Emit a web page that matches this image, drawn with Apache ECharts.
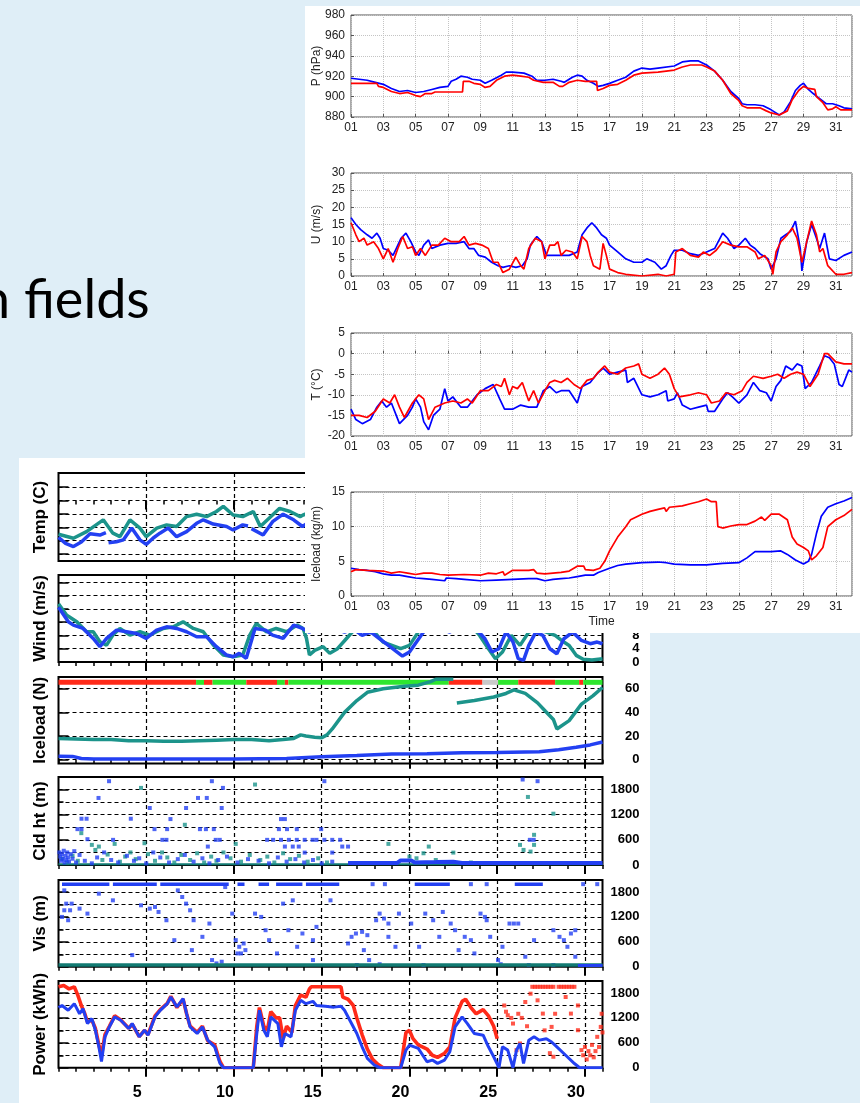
<!DOCTYPE html>
<html>
<head>
<meta charset="utf-8">
<title>Model comparison fields</title>
<script src="https://cdn.jsdelivr.net/npm/echarts@6/dist/echarts.min.js"></script>
<style>
  html, body { margin: 0; padding: 0; background: #dfeef7; }
  #chart { width: 860px; height: 1103px; }
</style>
</head>
<body>
<div id="chart"></div>
<script>
// ---------------- Upper panel: station vs. model, day of month 1..32 ----------------
const pBlue = [[1,918],[1.5,917],[2,916],[2.5,914],[3,912],[3.5,908],[4,905],[4.5,906],[5,904],[5.5,905],[6,907],[6.5,909],[7,910],[7.2,915],[7.5,917],[7.8,920],[8.2,919],[8.5,917],[9,916],[9.3,913],[9.7,916],[10.3,921],[10.6,924],[11,924],[11.7,923],[12.2,920],[12.5,916],[13,916],[13.5,917],[14,915],[14.2,914],[14.7,919],[15,921],[15.3,920],[15.6,916],[16,913],[16.3,910],[16.6,911],[17,913],[17.5,916],[18,919],[18.5,925],[19,928],[19.5,927],[20,928],[21,930],[21.5,934],[22,935],[22.5,935],[23,931],[23.5,925],[24,916],[24.5,905],[25,898],[25.2,893],[25.5,892],[26,892],[26.5,891],[27,887],[27.5,882],[27.8,885],[28.2,895],[28.5,906],[28.8,911],[29,913],[29.3,907],[29.6,903],[30,898],[30.4,893],[30.8,893],[31.2,891],[31.5,889],[32,888]];
const pRed = [[1,913],[2.6,913],[2.7,910],[3,909],[3.5,905],[4,903],[4.5,904],[5,901],[5.3,900],[5.6,903],[6,903],[6.2,904.5],[7.9,904.5],[7.95,915],[8.3,915],[8.6,913],[9,912],[9.3,909],[9.6,910],[10,916],[10.5,920],[11,921],[11.5,920],[12,919],[12.3,916],[12.9,914],[13.5,914],[13.9,910],[14.1,910],[14.5,914],[15,916],[15.5,915],[16.2,915],[16.25,906],[16.6,908],[17,911],[17.5,912],[18,916],[18.5,921],[19,923],[20,924],[21,926],[21.5,929],[22,931],[22.7,931],[23,929],[23.5,925],[24,916],[24.5,903],[25,896],[25.2,891],[25.5,889],[26.3,889],[26.7,886],[27,884],[27.5,882],[28,886],[28.3,897],[28.7,906],[29,910],[29.3,908],[29.7,907],[29.8,900],[30.2,894],[30.5,887],[30.8,888],[31,890],[31.3,887],[32,887]];

const uBlue = [[1,17],[1.3,15],[1.6,13.5],[2,12],[2.3,11],[2.6,12.5],[2.8,11],[3,8],[3.3,7.5],[3.6,6],[3.8,8],[4.1,11],[4.4,12.5],[4.7,10],[5,7],[5.2,6],[5.5,9],[5.8,10.5],[6,8],[6.5,9],[7,9.5],[7.5,9.5],[8,10],[8.3,8],[8.6,8],[8.9,6],[9.3,5.5],[9.7,4],[10.1,3],[10.4,2.5],[10.8,3],[11.2,2.5],[11.6,3],[11.9,5],[12.1,9],[12.5,11.5],[12.8,10],[13.1,6],[13.5,6],[14,6],[14.5,6],[15,7],[15.3,12],[15.6,14],[15.9,15.5],[16.2,14],[16.5,12],[16.8,11],[17,9],[17.5,7],[18,5],[18.5,4],[19,4],[19.3,5],[19.8,4],[20.2,2],[20.5,3],[20.8,6],[21,7.5],[21.5,7.5],[22,6.5],[22.5,6],[23,7],[23.5,8],[24,12.5],[24.3,11],[24.7,8],[25,9],[25.4,11],[25.7,9],[26,8],[26.3,6.5],[26.8,5],[27,2],[27.3,5],[27.6,11],[27.9,12],[28.2,13],[28.5,16],[28.8,8],[28.9,1.5],[29.2,10],[29.5,15],[29.8,11],[30,8],[30.3,12.5],[30.6,5],[31,4.5],[31.5,6],[32,7]];
const uRed = [[1,15.5],[1.3,12],[1.5,10],[1.8,11],[2,9],[2.4,10],[2.7,8],[3,5],[3.3,8],[3.6,4],[3.9,8],[4.2,11.5],[4.5,8],[4.8,8.5],[5,6],[5.3,8],[5.6,6],[6,9],[6.4,9],[6.8,11],[7.2,10],[7.7,10],[8,11.5],[8.3,9],[8.7,9.5],[9.1,9],[9.5,8],[9.8,4],[10.1,4],[10.4,1],[10.8,2],[11.2,5.5],[11.5,3],[11.7,2],[12,8],[12.4,11],[12.8,10],[13,5],[13.3,9],[13.6,9],[13.8,10],[14,6],[14.3,7.5],[14.7,7],[15,5],[15.3,11.5],[15.6,10],[15.8,6],[16,3],[16.4,2],[16.6,9.5],[16.8,6],[17,2],[17.5,1],[18,0.5],[19,0],[20,0.5],[20.5,0],[21,0.5],[21.1,7],[21.5,8],[22,6],[22.5,5.5],[22.8,7],[23.2,6],[23.6,7.5],[24,10],[24.5,9],[25,8.5],[25.5,8.5],[26,7],[26.2,5],[26.6,6],[27,3],[27.1,0.5],[27.3,7],[27.6,10],[28,12],[28.3,14],[28.6,11],[28.9,4],[29.2,10],[29.5,16],[29.8,12],[30,7],[30.2,8],[30.5,3],[31,0.5],[31.5,0.5],[32,1]];

const tBlue = [[1,-13.5],[1.3,-16],[1.7,-17],[2.2,-16],[2.6,-13],[2.9,-11.5],[3.2,-13],[3.5,-12],[3.8,-15],[4,-17],[4.5,-15],[4.8,-13],[5,-11],[5.3,-13],[5.5,-16.5],[5.8,-18.5],[6.1,-15],[6.5,-13.5],[6.8,-8.5],[7,-11.5],[7.3,-10.5],[7.8,-13],[8.2,-13],[8.8,-10],[9.3,-8.5],[9.8,-7.5],[10.2,-11],[10.5,-13.5],[11,-13.5],[11.5,-12.5],[12,-13],[12.5,-13],[12.9,-9],[13.3,-8],[13.7,-9.5],[14,-9],[14.5,-9],[15,-12],[15.3,-8],[15.8,-7],[16.2,-5],[16.6,-3.5],[17,-5],[17.5,-4.5],[18,-4],[18.1,-7],[18.5,-6],[19,-10],[19.5,-10.5],[20,-10],[20.5,-9],[20.6,-11.5],[21,-11],[21.2,-9.5],[21.5,-12.5],[22,-13.5],[22.5,-13],[23,-12.5],[23.1,-14],[23.5,-14],[24,-11],[24.3,-9.5],[24.6,-10.5],[25,-12],[25.5,-10],[25.9,-7],[26.3,-9],[26.7,-9.5],[27,-11.5],[27.3,-8],[27.6,-6.5],[27.9,-3],[28.3,-4],[28.6,-2.5],[28.9,-3],[29.1,-8.5],[29.5,-7],[30,-3],[30.3,-0.5],[30.6,-1],[30.9,-2.5],[31.2,-7.5],[31.4,-8],[31.8,-4],[32,-4.5]];
const tRed = [[1,-15],[1.5,-15],[2,-15.5],[2.5,-14],[3,-11],[3.4,-12],[3.7,-10],[4,-13],[4.3,-15.5],[4.8,-12],[5.2,-10],[5.5,-11],[5.8,-16],[6.2,-13],[6.8,-12],[7.3,-11.5],[7.8,-12],[8.2,-11],[8.5,-12],[9,-9],[9.5,-9],[10,-7.5],[10.3,-8],[10.5,-6],[10.8,-10],[11,-8],[11.3,-8.5],[11.6,-7],[12,-11.5],[12.3,-9],[12.6,-12],[13,-9],[13.3,-7],[13.6,-6.5],[14,-7],[14.4,-6],[14.8,-7.5],[15.2,-8.5],[15.6,-6.5],[16,-6],[16.3,-4.5],[16.7,-3],[17,-4.5],[17.5,-5],[18,-3.5],[18.5,-3],[18.8,-2.5],[19,-5],[19.5,-6],[20,-5],[20.4,-3.5],[20.7,-5],[21,-8.5],[21.3,-10.5],[22,-10],[22.5,-9.5],[23,-10],[23.3,-12],[23.8,-11.5],[24.2,-9.5],[24.7,-10],[25.2,-9],[25.5,-7],[25.9,-5.5],[26.5,-6],[27,-5.5],[27.4,-5],[27.8,-6],[28.2,-5],[28.6,-4.5],[29,-5],[29.4,-8],[29.9,-5],[30.3,0],[30.5,0],[31,-2],[31.5,-2.5],[32,-2.5]];

const iceBlue = [[1,4],[1.5,3.8],[2,3.7],[2.5,3.5],[3,3.2],[3.5,3],[4,3],[4.5,2.8],[5,2.6],[5.5,2.5],[6,2.4],[6.8,2.2],[6.9,2.6],[7.5,2.5],[8,2.4],[9,2.2],[10,2.3],[11,2.4],[12,2.5],[12.5,2.5],[13,2.2],[13.5,2.4],[14,2.5],[14.5,2.6],[15,2.8],[15.5,3],[16,3],[16.3,3.4],[17,4],[17.5,4.4],[18,4.6],[19,4.8],[20,4.9],[20.5,4.8],[21,4.6],[22,4.5],[23,4.5],[24,4.7],[25,4.8],[25.5,5.5],[26,6.4],[26.5,6.4],[27,6.4],[27.6,6.5],[28,6],[28.5,5.2],[29,4.6],[29.3,5],[29.5,6],[29.8,9],[30.1,11.5],[30.5,12.8],[31,13.3],[31.5,13.7],[32,14.2]];
const iceRed = [[1,3.5],[1.3,3.8],[2,3.7],[3,3.6],[3.5,3.3],[4,3.5],[4.5,3.3],[5,3.1],[5.5,3.3],[6,3.3],[6.5,3.1],[7,3],[8,3.1],[9,3],[9.5,3.3],[10,3.2],[10.4,3.5],[10.5,3],[11,3.7],[12,3.7],[12.3,3.8],[12.5,3.3],[13,3.2],[14,3.4],[14.5,3.6],[15,4.3],[15.4,4.3],[15.5,3.8],[16,3.7],[16.4,4],[16.7,5],[17,6.5],[17.5,8.5],[18,10],[18.3,11],[19,11.8],[19.5,12.2],[20,12.5],[20.4,12.7],[20.5,12.2],[20.7,12.8],[21.5,13],[22,13.3],[22.5,13.6],[23,14],[23.3,13.6],[23.6,13.6],[23.7,10],[24,9.8],[24.5,10.1],[25,10.3],[25.5,10.3],[26,10.8],[26.4,11.4],[26.6,10.9],[27,11.8],[27.5,11.8],[28,11],[28.1,10.9],[28.3,8.5],[28.6,7.5],[29,7],[29.3,6.5],[29.5,5.2],[29.8,5.8],[30.2,7],[30.5,10],[31,11],[31.5,11.6],[32,12.5]];

// ---------------- Lower panel: day of month 0..31 ----------------
const tempLowBlue = [[0,-13.8],[0.4,-16],[0.85,-17.2],[1.3,-15.5],[1.8,-12.4],[2.36,-12.9],[2.7,-12],[2.75,null],[2.85,-15.8],[3.3,-15.4],[3.7,-14.7],[4.17,-10.3],[4.64,-14.7],[5.0,-16.4],[5.4,-14],[5.78,-12.2],[6.25,-10.3],[6.73,-13.5],[7.3,-11.6],[7.87,-8.5],[8.25,-7.2],[8.82,-8.8],[9.58,-9.7],[9.95,-11],[10.5,-9.1],[10.8,-9.5],[10.85,null],[11.0,-10.5],[11.1,-11],[11.66,-12.9],[12.2,-7.9],[12.8,-5.1],[13.4,-7.2],[13.9,-9.7],[14.3,-8]];
const tempLowTeal = [[0,-12.6],[0.09,-12.9],[0.85,-14.1],[1.6,-11.6],[2.55,-7.2],[3.1,-12.2],[3.5,-13.5],[4.07,-7.2],[4.64,-10.3],[5.0,-13.5],[5.6,-10.3],[6.16,-9.1],[6.73,-9.7],[7.3,-6.0],[7.87,-5.1],[8.44,-6.0],[9.0,-4.1],[9.39,-2.2],[9.95,-5.4],[10.5,-6.0],[11.1,-4.1],[11.5,-9.7],[12.0,-6.6],[12.6,-2.9],[13.2,-4.1],[13.77,-6.0],[13.94,-5.4],[14.3,-4.5]];

const windLowBlue = [[0,16.5],[0.09,16.1],[0.56,12.1],[0.85,11.1],[1.4,10.1],[1.98,7.1],[2.36,4.6],[2.74,7.1],[3.31,9.6],[3.88,9.1],[4.45,8.6],[5.0,7.1],[5.59,9.6],[6.16,10.6],[6.73,10.1],[7.3,9.1],[7.87,7.6],[8.44,7.6],[9.0,4.6],[9.58,2.1],[9.95,1.6],[10.3,2.6],[10.7,1.1],[11.2,10.1],[11.8,9.6],[12.2,8.1],[12.8,7.1],[13.4,11.1],[13.9,10.1],[14.3,9],[14.8,11],[15.3,12],[15.8,10],[16.3,9],[16.8,10],[17.3,8],[17.8,9],[18.3,7],[18.8,5],[19.3,3],[19.6,1.8],[20.0,3],[20.4,6],[20.8,9],[21.3,11],[21.8,10],[22.3,9],[22.8,11],[23.3,12],[23.8,10],[24.3,7],[24.7,3],[25.1,4],[25.5,9],[25.9,6],[26.2,1],[26.5,0.5],[26.8,5],[27.2,9],[27.6,8],[28.0,4],[28.4,2.5],[28.8,7],[29.3,9],[29.8,6.5],[30.3,5.5],[30.7,6],[31,5.5]];
const windLowTeal = [[0,17.5],[0.09,17.1],[0.47,14.1],[1.04,12.1],[1.6,9.1],[1.98,9.1],[2.36,6.1],[2.74,5.1],[3.1,8.1],[3.5,10.1],[4.07,8.1],[4.64,9.1],[5.2,8.1],[5.59,9.1],[5.97,10.1],[6.54,10.6],[7.1,12.1],[7.68,10.1],[8.25,9.1],[8.82,5.1],[9.39,2.1],[9.95,1.6],[10.5,2.1],[10.9,8.1],[11.28,11.6],[11.85,9.1],[12.4,10.1],[13.0,9.1],[13.6,11.1],[13.94,10.1],[14.13,7.1],[14.3,2.1],[14.6,3.5],[15.08,4.6],[15.46,2.6],[15.9,4],[16.4,7],[16.9,10],[17.5,12],[18,9],[18.5,6],[19,5],[19.5,4],[20,5],[20.5,9],[21,12],[22,10],[23,12],[23.5,11],[24,8],[24.5,4],[24.9,1],[25.3,3],[25.8,8],[26.3,5],[26.8,9],[27.3,10],[27.8,9],[28.3,8],[28.8,6],[29.1,5],[29.5,2],[29.9,0.8],[30.4,0.6],[31,1]];

const iceLowTeal = [[0,18],[1,17.5],[2,17],[3,17],[4,16],[5,16],[6,15.5],[7,15.5],[8,16],[9,16.5],[10,17],[11,17],[12,16],[12.8,17],[13.4,18],[13.8,21],[14.1,20],[14.6,19],[15,18.5],[15.3,21],[15.6,26],[16.3,40],[17,50],[17.6,57],[18.5,60],[19.7,62],[20.5,63],[21.2,66],[21.5,68],[22.5,68],[22.6,null],[22.7,48],[23.7,50],[24.8,53],[25.5,56],[25.95,59],[26.6,56],[27.3,48],[27.75,41],[28.2,34],[28.4,26],[29.1,33],[29.8,47],[30.45,54],[31,61]];
const iceLowBlue = [[0,3],[0.8,2.8],[1.3,1],[2,0.5],[6,0.5],[10,0.6],[13,1],[15,2.5],[17,3.5],[19,4.8],[21,5],[23,5.8],[25,6],[27.4,6.8],[28.5,8.5],[29.5,10.5],[30.3,12.5],[31,15]];
// icing-state flag: [start day, end day, state]  0 = icing, 1 = no icing, 2 = missing
const iceFlagRuns = [[0,7.84,0],[7.84,8.29,1],[8.29,8.78,0],[8.78,10.7,1],[10.7,12.45,0],[12.45,12.9,1],[12.9,13.1,0],[13.1,22.24,1],[22.24,24.16,0],[24.16,25.05,2],[25.05,26.2,1],[26.2,28.3,0],[28.3,29.67,1],[29.67,29.9,0],[29.9,31,1]];
const ICE_FLAG_LEVEL = 65.4;

const cldBlue = [[0.05,300],[0.1,200],[0.15,100],[0.2,260],[0.25,150],[0.3,340],[0.35,60],[0.4,220],[0.45,120],[0.5,300],[0.55,180],[0.6,80],[0.7,260],[0.8,150],[0.9,330],[1.0,60],[1.2,240],[1.5,100],[1.9,40],[2.2,180],[2.6,300],[3.0,120],[3.4,60],[3.9,220],[4.3,100],[4.6,160],[5.0,40],[5.4,300],[5.8,180],[6.3,60],[6.8,140],[7.2,240],[7.7,80],[8.2,160],[8.6,40],[9.1,120],[9.6,200],[10.2,60],[10.8,140],[11.4,100],[12.0,40],[12.5,180],[13.0,80],[13.5,140],[14.0,60],[14.5,120],[15.0,40],[15.6,80],
  [2.88,2000],[2.28,1600],[1.31,1104],[1.6,1104],[1.08,856],[1.31,856],[1.65,616],[4.12,1104],[3.11,600],[5.2,1360],[5.47,856],[6.19,856],[5.92,600],[6.15,600],[6.38,1096],[7.27,1360],[7.95,1600],[8.45,1600],[8.74,2000],[9.37,1840],[9.3,1360],[8.06,856],[8.4,856],[8.85,856],[8.96,600],[9.19,600],[8.51,440],[11.89,600],[12.68,1096],[12.9,1096],[12.56,856],[13.02,856],[13.58,856],[12.23,600],[12.68,600],[13.13,600],[13.58,600],[14.03,600],[14.48,600],[12.9,440],[13.35,440],[13.69,440],[14.03,296],[15.15,2000],[14.97,856],[14.7,600],[15.15,600],[15.6,600],[16.05,600],[15.6,296],[16.17,440],[16.5,440],[26.45,2040],[27.3,2000],[26.86,600],[27.08,600]];
const cldTeal = [[0.2,150],[0.5,60],[0.8,220],[1.1,100],[1.3,760],[1.9,480],[2.1,360],[2.3,440],[2.5,120],[2.8,250],[3.2,504],[3.5,80],[3.8,200],[4.1,300],[4.4,140],[4.7,1840],[4.9,520],[5.1,260],[5.5,100],[5.9,300],[6.2,180],[6.6,60],[7.0,240],[7.2,960],[7.5,120],[7.9,280],[8.3,60],[8.7,200],[9.0,100],[9.4,300],[9.8,160],[10.1,504],[10.4,80],[10.9,240],[11.2,1920],[11.5,120],[11.9,200],[12.3,60],[12.8,280],[13.2,140],[13.7,220],[14.2,80],[14.8,160],[15.3,60],[18.8,504],[20.0,200],[20.4,160],[20.8,280],[21.1,440],[21.5,120],[22.5,296],[23.5,60],[26.3,480],[26.5,360],[26.75,1624],[26.9,320],[27.1,480],[27.1,720],[28.2,1224]];
const cldBlueFloor = [[16.5,50],[19.3,50],[19.5,110],[20.1,110],[20.3,60],[21.5,70],[22.5,80],[23,50],[31,50]];
const cldTealFloor = [[0,20],[31,20]];

const VIS_CAP = 1990;
const visBlueCapRuns = [[0.2,2.9],[3.1,5.6],[5.8,9.7],[10.2,10.6],[11.4,12.0],[12.4,13.9],[14.1,16.0],[20.3,22.3],[26.0,27.6]];
const visBlueCapDots = [[17.9,1990],[18.6,1990],[23.5,1990],[24.4,1990],[29.9,1990],[30.7,1990]];
const visBlue = [[0.33,1840],[0.44,1520],[0.55,1120],[0.66,1360],[0.75,1520],[0.33,1360],[0.2,1200],[1.2,1400],[1.65,1280],[2.3,1760],[3.1,1600],[4.2,280],[4.7,1480],[5.2,1400],[5.5,1440],[5.7,1320],[6.15,1120],[6.6,640],[6.8,1840],[7.05,1680],[7.27,1520],[7.5,1360],[7.7,1120],[7.6,400],[8.2,720],[8.6,1040],[8.75,160],[9.0,80],[9.3,120],[9.5,1920],[9.9,1280],[10.1,640],[10.3,480],[10.4,320],[10.55,560],[10.65,400],[10.2,320],[11.2,1280],[11.55,1200],[11.8,880],[12.0,640],[12.45,320],[12.8,1520],[13.35,1600],[13.1,880],[13.6,480],[13.9,800],[14.5,640],[14.7,960],[14.5,160],[15.5,1600],[16.5,560],[16.7,720],[16.95,800],[17.0,40],[17.3,840],[17.6,760],[18.1,1120],[18.3,1280],[18.3,60],[18.55,1160],[18.8,1040],[17.4,400],[17.7,160],[18.8,720],[19.2,480],[19.4,1280],[20.1,1040],[20.55,480],[20.8,40],[20.9,1280],[21.35,1120],[21.7,720],[21.9,1320],[22.35,1040],[22.6,880],[22.8,400],[23.15,720],[23.5,640],[23.7,320],[24.05,1280],[24.3,1200],[24.4,1120],[24.6,720],[25.05,160],[25.2,60],[25.3,480],[25.7,1040],[25.95,1040],[26.2,1040],[26.6,240],[26.8,40],[27.1,640],[28.2,880],[28.2,40],[28.55,720],[28.8,640],[29.0,480],[29.2,800],[29.45,880],[29.45,240]];
const visBlueFloor = [[29.6,30],[31,30]];
const visTealFloor = [[0,40],[31,40]];

const powerBlue = [[0,1450],[0.2,1500],[0.55,1384],[0.9,1544],[1.2,1300],[1.4,1424],[1.65,1064],[1.9,1184],[2.1,904],[2.3,504],[2.45,150],[2.65,744],[2.9,984],[3.2,1224],[3.55,1144],[4.0,944],[4.2,1064],[4.6,744],[4.9,904],[5.1,784],[5.5,1224],[5.8,1384],[6.2,1544],[6.4,1704],[6.75,1464],[7.1,1664],[7.3,1304],[7.5,984],[7.9,824],[8.2,984],[8.5,664],[8.9,504],[9.2,104],[9.4,0],[11.1,0],[11.3,824],[11.45,1384],[11.7,904],[11.9,744],[12.1,1224],[12.5,1064],[12.7,504],[12.9,824],[13.25,744],[13.5,1384],[13.8,1624],[14.1,1544],[14.5,1600],[14.7,1500],[15.2,1480],[15.7,1460],[16.1,1480],[16.3,1384],[16.6,1144],[17.0,824],[17.3,504],[17.6,224],[18.0,64],[18.3,0],[19.5,0],[19.8,424],[20.0,544],[20.5,464],[21.0,144],[21.3,184],[21.6,104],[22.0,184],[22.3,384],[22.6,984],[23.0,1224],[23.3,1064],[23.7,824],[24.2,784],[24.5,504],[24.8,264],[25.1,0],[25.3,504],[25.6,424],[25.9,0],[26.1,424],[26.3,584],[26.5,104],[26.8,664],[27.1,744],[27.4,664],[27.8,700],[28.1,620],[28.4,500],[28.9,300],[29.4,100],[29.7,0],[31,0]];
const powerRed = [[0,1950],[0.3,1980],[0.6,1900],[0.9,1950],[1.1,1750],[1.3,1500],[1.5,1300],[1.65,1100],[1.9,1150],[2.1,950],[2.3,550],[2.45,300],[2.65,800],[2.9,1000],[3.2,1250],[3.55,1150],[4.0,950],[4.2,1050],[4.6,750],[4.9,900],[5.1,800],[5.5,1250],[5.8,1400],[6.2,1550],[6.4,1720],[6.75,1450],[7.1,1650],[7.3,1300],[7.5,1000],[7.9,850],[8.2,1000],[8.5,650],[8.9,550],[9.2,150],[9.4,0],[11.1,0],[11.3,1000],[11.45,1450],[11.7,1000],[11.9,900],[12.1,1350],[12.4,1200],[12.6,1200],[12.8,700],[13.0,1000],[13.3,850],[13.5,1500],[13.8,1750],[14.1,1700],[14.3,1900],[14.4,1950],[16.1,1950],[16.2,1700],[16.5,1650],[16.8,1500],[17.0,1200],[17.3,800],[17.6,450],[17.9,200],[18.2,80],[18.5,0],[19.5,0],[19.8,850],[20.0,900],[20.2,700],[20.5,550],[21.0,450],[21.3,300],[21.6,250],[22.0,350],[22.3,500],[22.6,1200],[23.0,1600],[23.2,1650],[23.5,1450],[23.8,1300],[24.2,1400],[24.5,1250],[24.8,1000],[25.0,700]];
const powerRedDots = [[25.4,1500],[25.5,1350],[25.6,1264],[25.8,1200],[25.9,1064],[26.1,424],[26.2,1300],[26.3,584],[26.4,1200],[26.6,1584],[26.7,1000],[26.9,1784],[27.0,1950],[27.15,1950],[27.3,1950],[27.45,1950],[27.6,1950],[27.75,1950],[27.9,1950],[28.05,1950],[28.2,1950],[27.3,1624],[27.6,1304],[27.7,900],[28.0,350],[28.1,984],[28.2,264],[28.3,1300],[28.5,1950],[28.65,1950],[28.8,1950],[28.95,1950],[29.1,1950],[29.25,1950],[29.4,1950],[28.9,1704],[29.2,1304],[29.6,904],[29.6,1500],[29.8,424],[29.9,300],[30.0,500],[30.1,200],[30.2,400],[30.3,300],[30.4,550],[30.5,250],[30.6,400],[30.7,744],[30.8,500],[30.9,984],[30.95,1300],[31,850]];

// tick values
const dayMajorTicks = [5, 10, 15, 20, 25, 30];
const tempTicks = [-20, -15, -10, -5, 0, 5];
const windTicks = [0, 4, 8, 12, 16, 20, 24];
const windLines = [4, 8, 12, 16, 20, 24];
const iceNTicks = [0, 20, 40, 60];
const meterTicks = [0, 600, 1200, 1800];
const meterLines = [300, 600, 900, 1200, 1500, 1800];

// ---------------- option assembly ----------------
const FONT = '"Liberation Sans", Arial, Helvetica, sans-serif';
const C_BLUE = '#0000ff', C_RED = '#ff0000';
const L_BLUE = '#2340f2', L_TEAL = '#1c948b', L_TEAL_DARK = '#127a72', L_RED = '#ff2b1a';
const FLAG_COLORS = ['#ff2b1a', '#2ee62e', '#c9c9c9'];
const DAY_MAX = 31;

const grid = [], xAxis = [], yAxis = [], series = [];
const graphics = [];

function capRunsToLine(runs, level) {
  const out = [];
  runs.forEach(r => { out.push([r[0], level], [r[1], level], [r[1] + 0.01, null]); });
  return out;
}

// upper-right block (drawn on its own layer, above the lower-left block)
const upperPanels = [
  { name: 'P (hPa)', min: 880, max: 980, step: 20, top: 15, height: 102, blue: pBlue, red: pRed },
  { name: 'U (m/s)', min: 0, max: 30, step: 5, top: 173, height: 103, blue: uBlue, red: uRed },
  { name: 'T (\u00B0C)', min: -20, max: 5, step: 5, top: 333, height: 103, blue: tBlue, red: tRed },
  { name: 'Iceload (kg/m)', min: 0, max: 15, step: 5, top: 492, height: 104, blue: iceBlue, red: iceRed, xName: 'Time' }
];
upperPanels.forEach(p => {
  const gi = grid.length;
  grid.push({ left: 351, width: 501, top: p.top, height: p.height, show: true, borderColor: '#555', borderWidth: 1,
              zlevel: 1, z: 1, containLabel: false, outerBoundsMode: 'none' });
  const xi = xAxis.length;
  xAxis.push({
    type: 'value', gridIndex: gi, min: 1, max: 32, interval: 2, zlevel: 1, z: 2,
    name: p.xName || '', nameLocation: 'middle', nameGap: 20,
    nameTextStyle: { fontFamily: FONT, fontSize: 12, color: '#222' },
    axisLine: { show: false },
    axisTick: { show: true, inside: true, length: 3, lineStyle: { color: '#555', width: 1 } },
    axisLabel: { fontFamily: FONT, fontSize: 12, color: '#222', margin: 5, showMaxLabel: false,
                 formatter: v => (v < 10 ? '0' : '') + v },
    splitLine: { show: true, lineStyle: { color: '#c4c4c4', type: 'dotted', width: 1 } }
  });
  const yi = yAxis.length;
  yAxis.push({
    type: 'value', gridIndex: gi, min: p.min, max: p.max, interval: p.step, zlevel: 1, z: 2,
    axisLine: { show: false },
    axisTick: { show: true, inside: true, length: 3, lineStyle: { color: '#555', width: 1 } },
    axisLabel: { fontFamily: FONT, fontSize: 12, color: '#222', margin: 6 },
    splitLine: { show: true, lineStyle: { color: '#c4c4c4', type: 'dotted', width: 1 } }
  });
  graphics.push({ type: 'text', zlevel: 1, z: 5, x: 317, y: p.top + p.height / 2, rotation: Math.PI / 2,
    style: { text: p.name, font: '12px ' + FONT, fill: '#222', align: 'center', verticalAlign: 'middle' } });
  series.push({ type: 'line', xAxisIndex: xi, yAxisIndex: yi, data: p.blue, symbol: 'none', zlevel: 1, z: 3,
                lineStyle: { color: C_BLUE, width: 1.7 }, animation: false });
  series.push({ type: 'line', xAxisIndex: xi, yAxisIndex: yi, data: p.red, symbol: 'none', zlevel: 1, z: 4,
                lineStyle: { color: C_RED, width: 1.7 }, animation: false });
});

// lower-left block: six stacked panels sharing the day axis
const lowerPanels = [
  { name: 'Temp (C)',    min: -22.6, max: 10.3, top: 473, height: 88,   lines: tempTicks, major: tempTicks },
  { name: 'Wind (m/s)',  min: 0,     max: 26.2, top: 575, height: 87,   lines: windLines, major: windTicks },
  { name: 'Iceload (N)', min: -3.2,  max: 69.9, top: 677, height: 86.5, lines: iceNTicks, major: iceNTicks },
  { name: 'Cld ht (m)',  min: 0,     max: 2100, top: 777, height: 88,   lines: meterLines, major: meterTicks },
  { name: 'Vis (m)',     min: 0,     max: 2090, top: 880, height: 86.7, lines: meterLines, major: meterTicks },
  { name: 'Power (kWh)', min: 0,     max: 2090, top: 981, height: 86.7, lines: meterLines, major: meterTicks }
];
const axesOf = [];
lowerPanels.forEach((p, i) => {
  const last = i === lowerPanels.length - 1;
  const gi = grid.length;
  grid.push({ left: 58.5, width: 544, top: p.top, height: p.height, show: true, borderColor: '#000', borderWidth: 2,
              zlevel: 0, z: 1, containLabel: false, outerBoundsMode: 'none' });
  const xi = xAxis.length;
  xAxis.push({
    type: 'value', gridIndex: gi, min: 0, max: DAY_MAX, interval: 1, position: 'bottom', zlevel: 0, z: 2,
    axisLine: { show: false },
    axisTick: { show: true, length: 4, lineStyle: { color: '#000', width: 1.5 } },
    axisLabel: { show: false }, splitLine: { show: false }
  });
  xAxis.push({
    type: 'value', gridIndex: gi, min: 0, max: DAY_MAX, interval: 5, position: 'bottom', zlevel: 0, z: 2,
    axisLine: { show: false },
    axisTick: { show: true, length: 9, customValues: dayMajorTicks, lineStyle: { color: '#000', width: 2 } },
    axisLabel: { show: last, customValues: dayMajorTicks, fontFamily: FONT, fontWeight: 'bold', fontSize: 16,
                 color: '#000', margin: 17, padding: [0, 18, 0, 0], formatter: v => String(v) },
    splitLine: { show: true, lineStyle: { color: '#000', type: [4, 3], width: 1.2 } }
  });
  const yi = yAxis.length;
  yAxis.push({
    type: 'value', gridIndex: gi, min: p.min, max: p.max, position: 'right', zlevel: 0, z: 2,
    axisLine: { show: false },
    axisTick: { show: true, length: 5, customValues: p.lines, lineStyle: { color: '#000', width: 1.5 } },
    axisLabel: { show: false },
    splitLine: { show: true, lineStyle: { color: '#000', type: [4, 3], width: 1 } }
  });
  yAxis.push({
    type: 'value', gridIndex: gi, min: p.min, max: p.max, position: 'right', zlevel: 0, z: 2,
    axisLine: { show: false },
    axisTick: { show: true, length: 10, customValues: p.major, lineStyle: { color: '#000', width: 1.5 } },
    axisLabel: { show: true, customValues: p.major, align: 'right', margin: 37, fontFamily: FONT,
                 fontWeight: 'bold', fontSize: 13, color: '#000', formatter: v => String(v) },
    splitLine: { show: false }
  });
  axesOf.push({ xi, yi });
  graphics.push({ type: 'text', zlevel: 0, z: 5, x: 40, y: p.top + p.height / 2, rotation: Math.PI / 2,
    style: { text: p.name, font: 'bold 17px ' + FONT, fill: '#000', align: 'center', verticalAlign: 'middle' } });
});

function lineS(k, data, color, width, z) {
  series.push({ type: 'line', xAxisIndex: axesOf[k].xi, yAxisIndex: axesOf[k].yi, data, symbol: 'none',
                zlevel: 0, z: z || 3, lineStyle: { color, width: width || 3.5 }, animation: false });
}
function dotS(k, data, color, size, z) {
  series.push({ type: 'scatter', xAxisIndex: axesOf[k].xi, yAxisIndex: axesOf[k].yi, data, symbol: 'rect',
                symbolSize: size || 4, zlevel: 0, z: z || 3, itemStyle: { color }, animation: false });
}

lineS(0, tempLowTeal, L_TEAL, 3.5);
lineS(0, tempLowBlue, L_BLUE, 3.5, 4);
lineS(1, windLowTeal, L_TEAL, 3.5);
lineS(1, windLowBlue, L_BLUE, 3.5, 4);
lineS(2, iceLowTeal, L_TEAL, 3.5);
lineS(2, iceLowBlue, L_BLUE, 3.5, 4);
series.push({
  type: 'custom', xAxisIndex: axesOf[2].xi, yAxisIndex: axesOf[2].yi, zlevel: 0, z: 3, animation: false,
  encode: { x: [0, 1], y: 2 },
  data: iceFlagRuns.map(r => [r[0], r[1], ICE_FLAG_LEVEL, r[2]]),
  renderItem: (params, api) => {
    const a = api.coord([api.value(0), api.value(2)]);
    const b = api.coord([api.value(1), api.value(2)]);
    return { type: 'rect', shape: { x: a[0], y: a[1] - 2.5, width: b[0] - a[0], height: 5 },
             style: { fill: FLAG_COLORS[api.value(3)] } };
  }
});
lineS(3, cldTealFloor, L_TEAL_DARK, 2);
dotS(3, cldTeal, L_TEAL, 4);
dotS(3, cldBlue, L_BLUE, 4, 4);
lineS(3, cldBlueFloor, L_BLUE, 4, 4);
dotS(4, visBlue, L_BLUE, 4);
lineS(4, capRunsToLine(visBlueCapRuns, VIS_CAP), L_BLUE, 3.5);
dotS(4, visBlueCapDots, L_BLUE, 4);
lineS(4, visTealFloor, L_TEAL_DARK, 3.5, 4);
lineS(4, visBlueFloor, L_BLUE, 3, 5);
lineS(5, powerRed, L_RED, 3.6);
dotS(5, powerRedDots, L_RED, 4);
lineS(5, powerBlue, L_BLUE, 3, 4);

// panel cards and the slide heading fragment
graphics.push(
  { type: 'rect', zlevel: 0, z: -10, shape: { x: 19, y: 458, width: 631, height: 645 }, style: { fill: '#ffffff' } },
  { type: 'rect', zlevel: 1, z: -10, shape: { x: 305, y: 6, width: 555, height: 627 }, style: { fill: '#ffffff' } },
  { type: 'text', zlevel: 0, z: 1, x: -20, y: 328,
    style: { text: 'n fields', font: '54px Lato, "Open Sans", sans-serif', fill: '#000', verticalAlign: 'bottom' } }
);

const chart = echarts.init(document.getElementById('chart'), null, { renderer: 'canvas' });
chart.setOption({
  backgroundColor: '#dfeef7',
  animation: false,
  grid, xAxis, yAxis, series,
  graphic: { elements: graphics }
});
</script>
</body>
</html>
